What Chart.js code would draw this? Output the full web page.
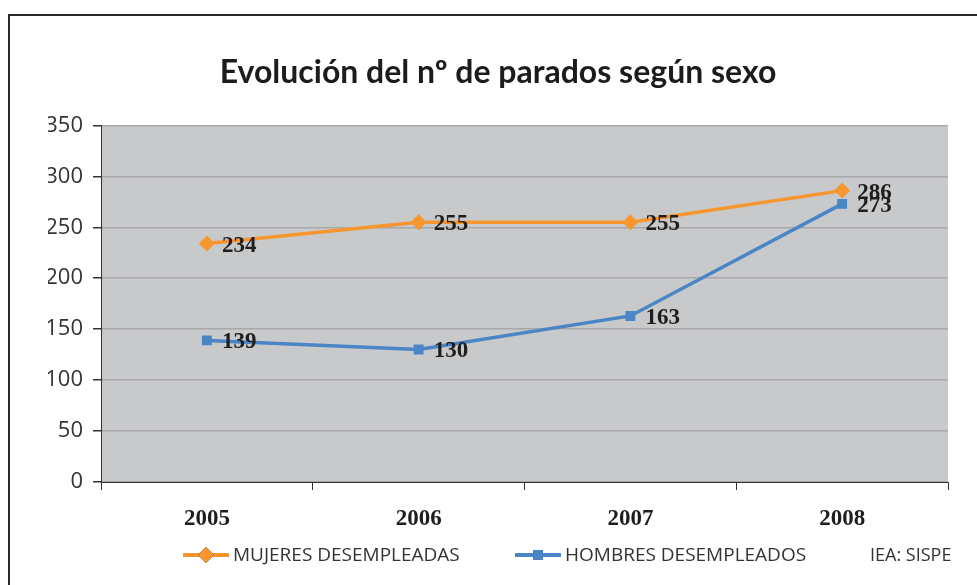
<!DOCTYPE html>
<html>
<head>
<meta charset="utf-8">
<script src="https://cdn.jsdelivr.net/npm/chart.js@4/dist/chart.umd.min.js"></script>
<style>
  html, body { margin: 0; padding: 0; background: #fff; }
  #wrap { width: 977px; height: 585px; }
</style>
</head>
<body>
<div id="wrap"><canvas id="chart" width="977" height="585"></canvas></div>
<script>
// data
const years = ["2005", "2006", "2007", "2008"];
const mujeres = [234, 255, 255, 286];
const hombres = [139, 130, 163, 273];
const yTicks = [0, 50, 100, 150, 200, 250, 300, 350];

const ORANGE = "#f7962f";
const BLUE = "#4a85c6";

// grey plot area + outer frame
const backdrop = {
    id: "backdrop",
    beforeDraw(chart) {
        let ctx = chart.ctx, a = chart.chartArea;
        ctx.save();
        ctx.fillStyle = "#fff";
        ctx.fillRect(0, 0, chart.width, chart.height);
        ctx.fillStyle = "#c8c9cb";
        ctx.fillRect(a.left, a.top, a.right - a.left, a.bottom - a.top);
        ctx.strokeStyle = "#2a2a2a";
        ctx.lineWidth = 2;
        ctx.beginPath();
        ctx.moveTo(9, chart.height + 5);
        ctx.lineTo(9, 15);
        ctx.lineTo(chart.width + 5, 15);
        ctx.stroke();
        ctx.restore();
    }
};

// value labels, legend and source note
const extras = {
    id: "extras",
    afterDatasetsDraw(chart) {
        let ctx = chart.ctx;
        ctx.save();
        ctx.font = "bold 23px 'Liberation Serif'";
        ctx.fillStyle = "#1e1e1e";
        ctx.textBaseline = "middle";
        ctx.textAlign = "left";
        chart.data.datasets.forEach((ds, i) => {
            chart.getDatasetMeta(i).data.forEach((pt, j) => {
                ctx.fillText(ds.data[j], pt.x + 15, pt.y + 2);
            });
        });

        // legend
        let legendY = 555;
        let items = [{x: 183, ds: chart.data.datasets[0]}, {x: 515, ds: chart.data.datasets[1]}];
        ctx.font = "19px 'Open Sans'";
        items.forEach(it => {
            ctx.strokeStyle = it.ds.borderColor;
            ctx.lineWidth = 4;
            ctx.beginPath();
            ctx.moveTo(it.x, legendY);
            ctx.lineTo(it.x + 46, legendY);
            ctx.stroke();
            Chart.helpers.drawPoint(ctx, {
                pointStyle: it.ds.pointStyle,
                radius: it.ds.pointRadius,
                borderWidth: 0
            }, it.x + 23, legendY);
            ctx.fillStyle = it.ds.borderColor;
            ctx.fill();
            ctx.fillStyle = "#333";
            ctx.fillText(it.ds.label, it.x + 50, legendY + 1);
        });
        ctx.font = "18px 'Open Sans'";
        ctx.fillText("IEA: SISPE", 870, legendY + 1);
        ctx.restore();
    }
};

new Chart(document.getElementById("chart"), {
    type: "line",
    data: {
        labels: years,
        datasets: [
            {
                label: "MUJERES DESEMPLEADAS",
                data: mujeres,
                borderColor: ORANGE,
                backgroundColor: ORANGE,
                borderWidth: 3.5,
                pointStyle: "rectRot",
                pointRadius: 8,
                pointBorderWidth: 0,
                tension: 0
            },
            {
                label: "HOMBRES DESEMPLEADOS",
                data: hombres,
                borderColor: BLUE,
                backgroundColor: BLUE,
                borderWidth: 3.5,
                pointStyle: "rect",
                pointRadius: 7,
                pointBorderWidth: 0,
                tension: 0
            }
        ]
    },
    options: {
        responsive: false,
        animation: false,
        layout: { padding: { left: 48, right: 29, top: 0, bottom: 0 } },
        plugins: {
            legend: { display: false },
            tooltip: { enabled: false },
            title: {
                display: true,
                text: "Evolución del nº de parados según sexo",
                color: "#1c1c1c",
                font: { family: "Lato", size: 32, weight: "bold", lineHeight: 1.2 },
                padding: { top: 53, bottom: 34 }
            }
        },
        scales: {
            x: {
                offset: true,
                afterFit(s) { s.height = 103; },
                grid: { offset: true, drawOnChartArea: false, drawTicks: true, tickLength: 8, tickColor: "#333" },
                border: { color: "#333", width: 1 },
                ticks: {
                    color: "#1e1e1e",
                    padding: 15,
                    font: { family: "Liberation Serif", size: 23, weight: "bold" }
                }
            },
            y: {
                min: 0,
                max: 350,
                afterFit(s) { s.width = 53; },
                afterBuildTicks(s) { s.ticks = yTicks.map(v => ({value: v})); },
                grid: { color: "#a7a8aa", lineWidth: 1.5, tickLength: 8, tickColor: "#333" },
                border: { color: "#333", width: 1 },
                ticks: {
                    color: "#333",
                    padding: 10,
                    font: { family: "Open Sans", size: 22 }
                }
            }
        }
    },
    plugins: [backdrop, extras]
});
</script>
</body>
</html>
